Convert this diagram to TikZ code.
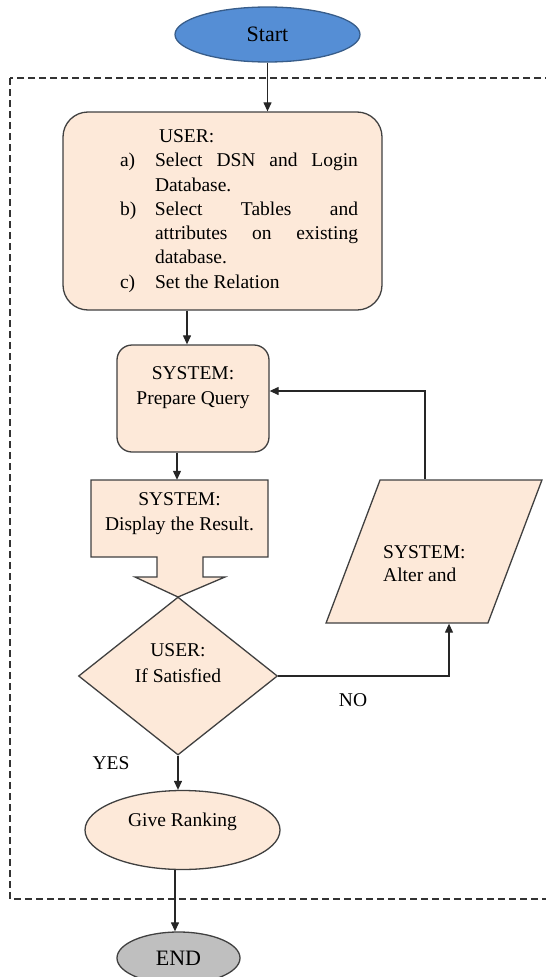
\documentclass[tikz,border=0pt]{standalone}
\usepackage{fontspec}
\setmainfont{Liberation Serif}
\usetikzlibrary{shapes.geometric, arrows.meta}

\definecolor{peach}{RGB}{253,233,217}
\definecolor{startblue}{RGB}{85,142,213}
\definecolor{startrim}{RGB}{56,93,138}
\definecolor{endgray}{RGB}{191,191,191}
\definecolor{rim}{RGB}{64,64,64}

\newcommand{\useritem}[2]{\hangindent=35pt\hangafter=1\noindent\makebox[35pt][l]{#1}#2\par}

\begin{document}
\begin{tikzpicture}[x=1pt, y=-1pt,
	box/.style={draw=rim, fill=peach, line width=1.3pt},
	flow/.style={-{Triangle[length=9pt,width=8pt]}, line width=1.2pt, black!85},
	txt/.style={font=\fontsize{19.5}{25.5}\selectfont},
	bigtxt/.style={font=\fontsize{22}{26}\selectfont}]
		\useasboundingbox (0,0) rectangle (546,977);
		\clip (0,0) rectangle (546,977);
		
		% Dashed frame
		\draw[dash pattern=on 7pt off 4pt, line width=1.2pt, black!80] (10,78) rectangle (560,899);
		
		% Start
		\node[ellipse, draw=startrim, fill=startblue, line width=1.3pt, minimum width=185pt, minimum height=55pt, bigtxt] (start) at (267.5,34.5) {Start};
		
		% User input
		\node[box, rounded corners=25pt, minimum width=319pt, minimum height=198pt, text width=271pt, align=justify, font=\fontsize{19.5}{24.3}\selectfont] (user) at (222.5,211) {%
			\leftskip=33pt
			\noindent\hspace*{39pt}USER:\par
			\useritem{a)}{Select DSN and Login\linebreak Database.}
			\useritem{b)}{Select Tables and\linebreak attributes on existing\linebreak database.}
			\useritem{c)}{Set the Relation}};
		
		% Prepare query
		\node[box, rounded corners=15pt, minimum width=152pt, minimum height=107pt, align=center, txt] (query) at (193,398.5) {SYSTEM:\\Prepare Query\\\mbox{}};
		
		% Display result (box with arrow)
		\filldraw[box] (91,480) -- (268,480) -- (268,557) -- (203,557) -- (203,577) -- (225,577) -- (178,597) -- (135,577) -- (157,577) -- (157,557) -- (91,557) -- cycle;
		\node[txt, align=center, minimum width=177pt, minimum height=67pt] (display) at (179.5,513.5) {SYSTEM:\\Display the Result.};
		
		% Decision
		\node[box, diamond, aspect=1.26, inner sep=1pt, minimum width=199pt, minimum height=158pt, align=center, txt] (decide) at (178,676) {USER:\\If Satisfied\\\mbox{}};
		
		% Alter query
		\node[box, trapezium, trapezium left angle=63.4, trapezium right angle=116.6, trapezium stretches=true, minimum width=216pt, minimum height=143pt] (alter) at (434,551.5) {};
		\node[align=left, anchor=west, inner sep=0pt, font=\fontsize{19.5}{23}\selectfont] (altertext) at (383,563.5) {SYSTEM:\\Alter and};
		
		% Ranking
		\node[box, ellipse, minimum width=195pt, minimum height=79pt, text depth=20pt, txt] (rank) at (182.5,830) {Give Ranking};
		
		% End
		\node[ellipse, draw=rim, fill=endgray, line width=1.3pt, minimum width=123pt, minimum height=52pt, bigtxt] (finish) at (178.5,958) {END};
		
		% Labels
		\node[txt] (no) at (353,700) {NO};
		\node[txt] (yes) at (111,763) {YES};
		
		% Connectors
		\draw[flow] (start.south) -- (start.south |- user.north);
		\draw[flow] (user.south -| 187,0) -- (query.north -| 187,0);
		\draw[flow] (query.south -| 177,0) -- (display.north -| 177,0);
		\draw[flow] (alter.north -| 425,0) |- (query.east |- 0,391);
		\draw[flow] (decide.east) -| (alter.south -| 449,0);
		\draw[flow] (decide.south) -- (decide.south |- rank.north);
		\draw[flow] (rank.south -| 175,0) -- (finish.north -| 175,0);
		
	\end{tikzpicture}
\end{document}
